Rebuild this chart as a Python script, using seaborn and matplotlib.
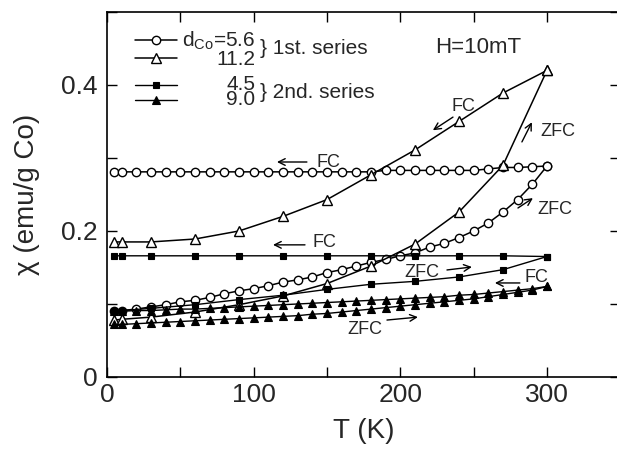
import matplotlib
matplotlib.use("Agg")
import matplotlib.pyplot as plt
from matplotlib.ticker import MultipleLocator, FixedLocator
import seaborn as sns
import pandas as pd

# Temperature grids (K)
T_fine = [5, 10, 20, 30, 40, 50, 60, 70, 80, 90, 100, 110, 120, 130, 140, 150,
          160, 170, 180, 190, 200, 210, 220, 230, 240, 250, 260, 270, 280, 290, 300]
T_coarse = [5, 10, 30, 60, 90, 120, 150, 180, 210, 240, 270, 300]

# 1st series, d_Co = 5.6 (open circles)
chi_56_fc = [0.281, 0.281, 0.281, 0.281, 0.281, 0.281, 0.281, 0.281, 0.281, 0.281,
             0.281, 0.281, 0.281, 0.281, 0.281, 0.281, 0.281, 0.281, 0.281, 0.283,
             0.283, 0.283, 0.283, 0.283, 0.283, 0.283, 0.285, 0.287, 0.287, 0.288, 0.289]
chi_56_zfc = [0.090, 0.091, 0.093, 0.096, 0.099, 0.103, 0.105, 0.109, 0.114, 0.118,
              0.121, 0.125, 0.130, 0.133, 0.137, 0.143, 0.147, 0.152, 0.157, 0.161,
              0.166, 0.170, 0.178, 0.183, 0.191, 0.200, 0.211, 0.226, 0.243, 0.264, 0.289]

# 1st series, d_Co = 11.2 (open triangles)
chi_112_fc = [0.185, 0.185, 0.185, 0.189, 0.200, 0.220, 0.243, 0.277, 0.311, 0.350, 0.389, 0.420]
chi_112_zfc = [0.078, 0.079, 0.082, 0.089, 0.099, 0.111, 0.128, 0.152, 0.182, 0.226, 0.290, 0.420]

# 2nd series, d_Co = 4.5 (filled squares)
chi_45_fc = [0.166, 0.166, 0.166, 0.166, 0.166, 0.166, 0.166, 0.166, 0.166, 0.166, 0.166, 0.165]
chi_45_zfc = [0.090, 0.091, 0.094, 0.099, 0.106, 0.112, 0.120, 0.127, 0.131, 0.137, 0.147, 0.165]

# 2nd series, d_Co = 9.0 (filled triangles)
chi_90_fc = [0.090, 0.090, 0.091, 0.091, 0.092, 0.093, 0.093, 0.094, 0.095, 0.096,
             0.097, 0.098, 0.099, 0.100, 0.101, 0.102, 0.103, 0.104, 0.105, 0.106,
             0.107, 0.108, 0.109, 0.110, 0.112, 0.113, 0.115, 0.117, 0.119, 0.121, 0.124]
chi_90_zfc = [0.072, 0.072, 0.073, 0.074, 0.075, 0.076, 0.077, 0.078, 0.079, 0.080,
              0.081, 0.082, 0.083, 0.084, 0.086, 0.087, 0.089, 0.091, 0.093, 0.095,
              0.097, 0.099, 0.101, 0.103, 0.105, 0.107, 0.110, 0.113, 0.116, 0.119, 0.124]

x_ticks = [0, 100, 200, 300]
y_ticks = [0, 0.2, 0.4]
y_tick_labels = ["0", "0.2", "0.4"]

sns.set_theme(style="ticks")
plt.rcParams["font.family"] = ["Liberation Sans", "DejaVu Sans"]
plt.rcParams["mathtext.fontset"] = "custom"
plt.rcParams["mathtext.rm"] = "Liberation Sans"
plt.rcParams["mathtext.it"] = "Liberation Sans:italic"

fig = plt.figure(figsize=(6.17, 4.49), dpi=100)
ax = fig.add_axes([0.1734, 0.1604, 0.8320, 0.8129])

styles = {
    "56": dict(marker="o", ms=6, mfc="white", mec="black", mew=1.0, lw=1.1),
    "112": dict(marker="^", ms=6.5, mfc="white", mec="black", mew=1.0, lw=1.1),
    "45": dict(marker="s", ms=4, mfc="black", mec="black", mew=0.8, lw=1.0),
    "90": dict(marker="^", ms=6, mfc="black", mec="black", mew=0.8, lw=1.0),
}

curves = [
    ("56", T_fine, chi_56_zfc), ("56", T_fine, chi_56_fc),
    ("112", T_coarse, chi_112_zfc), ("112", T_coarse, chi_112_fc),
    ("45", T_coarse, chi_45_zfc), ("45", T_coarse, chi_45_fc),
    ("90", T_fine, chi_90_zfc), ("90", T_fine, chi_90_fc),
]
for key, T, chi in curves:
    df = pd.DataFrame({"T": T, "chi": chi})
    sns.lineplot(data=df, x="T", y="chi", ax=ax, color="black", sort=False,
                 estimator=None, legend=False, **styles[key])

ax.set_xlim(0, 350)
ax.set_ylim(0, 0.5)
ax.xaxis.set_major_locator(FixedLocator(x_ticks))
ax.xaxis.set_minor_locator(MultipleLocator(50))
ax.yaxis.set_major_locator(FixedLocator(y_ticks))
ax.set_yticklabels(y_tick_labels)
ax.yaxis.set_minor_locator(MultipleLocator(0.1))
ax.tick_params(which="both", direction="in", top=True, right=True,
               length=7, width=1.0, color="black")
ax.tick_params(axis="both", which="major", labelsize=19)
ax.tick_params(axis="x", which="major", pad=4)
ax.tick_params(axis="y", which="major", pad=7)
ax.set_xlabel("T (K)", fontsize=20, labelpad=8)
ax.set_ylabel("χ (emu/g Co)", fontsize=20, labelpad=15)
for s in ax.spines.values():
    s.set_linewidth(1.2)
    s.set_color("black")

# Hand-made legend block
leg_x = [19, 48]
leg_rows = [(0.4616, "56"), (0.437, "112"), (0.400, "45"), (0.3795, "90")]
for yv, key in leg_rows:
    st = dict(styles[key])
    ax.plot(leg_x, [yv, yv], color="black", lw=st.pop("lw"), marker=None)
    ax.plot([33.7], [yv], color="black", linestyle="none", **st)
fs_leg = 15
ax.text(101, 0.4493, "d$_{\\rm Co}$=5.6\n11.2", ha="right", va="center",
        multialignment="right", linespacing=0.85, fontsize=fs_leg)
ax.text(101, 0.390, "4.5\n9.0", ha="right", va="center",
        multialignment="right", linespacing=0.72, fontsize=fs_leg)
ax.text(104, 0.4493, "} 1st. series", ha="left", va="center", fontsize=fs_leg)
ax.text(104, 0.390, "} 2nd. series", ha="left", va="center", fontsize=fs_leg)
ax.text(252.9, 0.452, "H=10mT", ha="center", va="center", fontsize=16)

# FC / ZFC direction markers
fs_ann = 13
arrow = dict(arrowstyle="->", color="black", lw=1.0, shrinkA=0, shrinkB=0)
notes = [
    ("FC", (242.7, 0.370), "center", (235.9, 0.356), (222.2, 0.338)),
    ("FC", (143.0, 0.2945), "left", (136.3, 0.2945), (115.9, 0.2945)),
    ("ZFC", (295.2, 0.336), "left", (282.9, 0.322), (289.7, 0.349)),
    ("ZFC", (293.1, 0.229), "left", (280.2, 0.2315), (290.4, 0.245)),
    ("FC", (140.4, 0.1836), "left", (135.0, 0.181), (113.2, 0.181)),
    ("ZFC", (203.1, 0.1438), "left", (231.8, 0.1466), (248.8, 0.1507)),
    ("FC", (285.0, 0.1356), "left", (281.5, 0.1288), (264.5, 0.1288)),
    ("ZFC", (163.6, 0.0644), "left", (190.9, 0.078), (212.0, 0.082)),
]
for label, pos, ha, a0, a1 in notes:
    ax.text(pos[0], pos[1], label, ha=ha, va="center", fontsize=fs_ann)
    ax.annotate("", xy=a1, xytext=a0, arrowprops=arrow)

fig.savefig("out.png", dpi=100)
